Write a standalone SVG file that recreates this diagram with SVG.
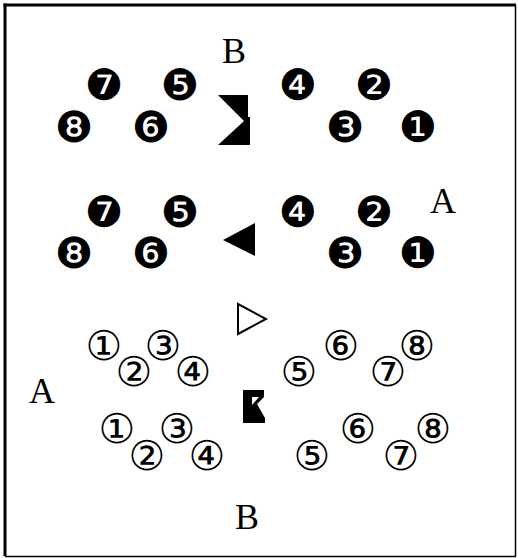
<svg xmlns="http://www.w3.org/2000/svg" width="518" height="558" viewBox="0 0 518 558">
<style>
.f{font-family:"DejaVu Sans",sans-serif;font-size:43px;text-anchor:middle;fill:#000}
.o{font-family:"DejaVu Sans",sans-serif;font-size:41px;text-anchor:middle;fill:#000}
.l{font-family:"Liberation Serif","Times New Roman",serif;font-size:36px;text-anchor:middle;fill:#000}
.edge{stroke:#000;fill:none}
</style>
<rect x="0" y="0" width="518" height="558" fill="#fff"/>
<g id="frame">
<line class="edge" x1="5" y1="3.5" x2="5" y2="556" stroke-width="3"/>
<line class="edge" x1="3.5" y1="5" x2="516" y2="5" stroke-width="3"/>
<line class="edge" x1="515.5" y1="5" x2="515.5" y2="556.5" stroke-width="1.5"/>
<line class="edge" x1="5" y1="556.5" x2="516" y2="556.5" stroke-width="1.5" stroke="#666"/>
</g>
<g id="labels">
<text id="labelB1" class="l" x="234" y="63">B</text>
<text id="labelA1" class="l" x="443" y="213">A</text>
<text id="labelA2" class="l" x="42" y="403">A</text>
<text id="labelB2" class="l" x="247" y="529">B</text>
</g>
<g id="group1">
<text id="g1n7" class="f" x="104" y="100">❼</text>
<text id="g1n5" class="f" x="180" y="100">❺</text>
<text id="g1n4" class="f" x="298" y="100">❹</text>
<text id="g1n2" class="f" x="374" y="100">❷</text>
<text id="g1n8" class="f" x="74" y="142">❽</text>
<text id="g1n6" class="f" x="151" y="142">❻</text>
<text id="g1n3" class="f" x="345" y="142">❸</text>
<text id="g1n1" class="f" x="418" y="142">❶</text>
</g>
<g id="group2">
<text id="g2n7" class="f" x="104" y="227">❼</text>
<text id="g2n5" class="f" x="180" y="227">❺</text>
<text id="g2n4" class="f" x="298" y="227">❹</text>
<text id="g2n2" class="f" x="374" y="227">❷</text>
<text id="g2n8" class="f" x="74" y="268">❽</text>
<text id="g2n6" class="f" x="151" y="268">❻</text>
<text id="g2n3" class="f" x="345" y="268">❸</text>
<text id="g2n1" class="f" x="418" y="268">❶</text>
</g>
<g id="group3">
<text id="g3n1" class="o" x="104" y="360">①</text>
<text id="g3n3" class="o" x="163" y="360">③</text>
<text id="g3n2" class="o" x="134" y="385.5">②</text>
<text id="g3n4" class="o" x="193" y="385.5">④</text>
<text id="g3n5" class="o" x="299" y="385.5">⑤</text>
<text id="g3n6" class="o" x="341" y="360">⑥</text>
<text id="g3n7" class="o" x="388" y="385.5">⑦</text>
<text id="g3n8" class="o" x="417" y="360">⑧</text>
</g>
<g id="group4">
<text id="g4n1" class="o" x="117" y="442.5">①</text>
<text id="g4n3" class="o" x="177" y="442.5">③</text>
<text id="g4n2" class="o" x="147" y="469.5">②</text>
<text id="g4n4" class="o" x="207" y="469.5">④</text>
<text id="g4n5" class="o" x="312" y="469.5">⑤</text>
<text id="g4n6" class="o" x="358" y="442.5">⑥</text>
<text id="g4n7" class="o" x="401" y="469.5">⑦</text>
<text id="g4n8" class="o" x="433" y="442.5">⑧</text>
</g>
<g id="markers">
<polygon id="shapeTop" points="218,95 248,95 248,117 250,117 250,145 218,145 244,121" fill="#000"/>
<polygon id="triLeft" points="255,223 255,256 223,240" fill="#000"/>
<polygon id="triRight" points="238,304 238,334 266,319" fill="none" stroke="#000" stroke-width="2"/>
<path id="shapeBottom" d="M243,390 L264,390 L264,397 L257,404 L265,418 L265,423 L243,423 Z M252,397 L259,397 L252,405 Z" fill="#000" fill-rule="evenodd"/>
</g>
</svg>
